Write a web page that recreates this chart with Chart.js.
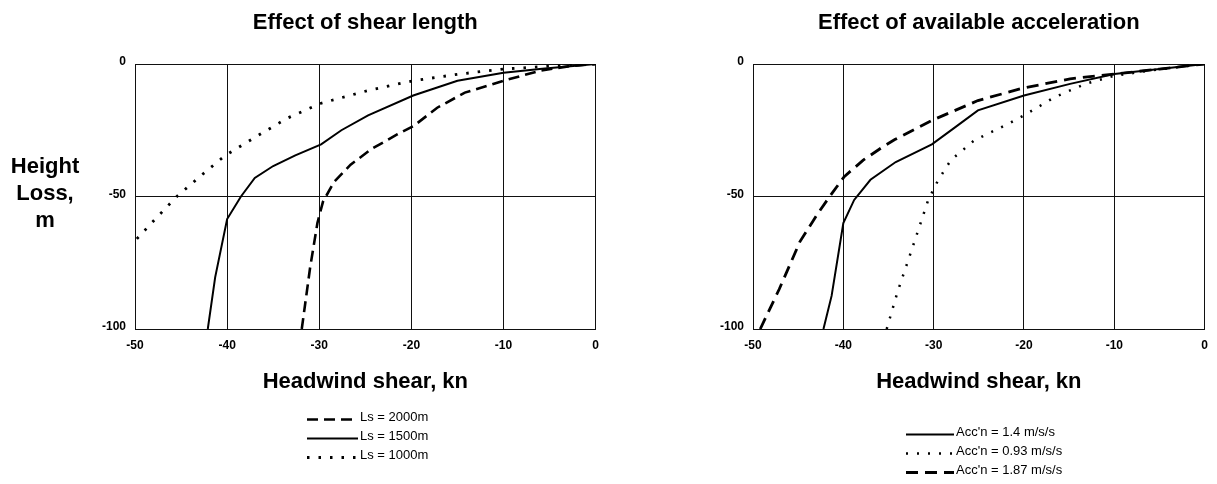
<!DOCTYPE html>
<html>
<head>
<meta charset="utf-8">
<title>Height loss vs headwind shear</title>
<script src="https://cdn.jsdelivr.net/npm/chart.js@4.4.1/dist/chart.umd.min.js"></script>
<style>
  html, body { margin: 0; padding: 0; background: #fff; }
  #wrap { position: relative; width: 1217px; height: 484px; overflow: hidden; }
  canvas { position: absolute; top: 0; }
  #shearChart { left: 0; }
  #accelChart { left: 608px; }
</style>
</head>
<body>
<div id="wrap">
  <canvas id="shearChart" width="608" height="484"></canvas>
  <canvas id="accelChart" width="609" height="484"></canvas>
</div>
<script>
// axis ticks: headwind shear (kn) and height loss (m)
const shearTicks = [-50, -40, -30, -20, -10, 0];
const lossTicks = [-100, -50, 0];

// effect of shear length
const ls2000Shear = [-31.9, -31.0, -30.2, -29.6, -28.4, -26.6, -24.3, -21.5, -19.8, -17.2, -14.2, -10.0, -6.0, -3.0, 0];
const ls2000Loss  = [-100, -77, -60, -52, -44.5, -38, -32, -26.5, -23.5, -16.5, -10.8, -6.3, -2.5, -0.9, 0];
const ls1500Shear = [-42.1, -41.3, -40.0, -38.5, -37.0, -35.0, -32.6, -29.8, -27.6, -24.7, -19.8, -15.0, -10.0, -5.8, 0];
const ls1500Loss  = [-100, -80.5, -58.5, -50, -43, -38.5, -34.5, -30.3, -25, -19.4, -11.9, -6.3, -3.3, -1.8, 0];
const ls1000Shear = [-49.8, -47.8, -45.4, -42.8, -40.2, -36.9, -33.5, -29.8, -24.7, -19.8, -14.8, -10.0, -5.0, 0];
const ls1000Loss  = [-66, -58.5, -49.8, -42, -34.5, -27.5, -20.5, -14.8, -10, -6.3, -3.8, -1.9, -0.8, 0];

// effect of available acceleration
const acc14Shear  = [-42.2, -41.3, -40.0, -38.8, -37.0, -34.2, -30.2, -27.6, -25.1, -20.0, -14.9, -10.0, -5.0, 0];
const acc14Loss   = [-100, -87.5, -60, -51.3, -43.7, -37, -30.3, -23.8, -17.5, -11.9, -7.5, -3.8, -1.9, 0];
const acc093Shear = [-35.2, -34.0, -32.3, -30.6, -29.5, -28.1, -25.5, -21.7, -20.0, -16.6, -13.2, -10.0, -5.0, 0];
const acc093Loss  = [-100, -86, -68.8, -51.3, -43.8, -36.3, -28.8, -22.5, -19.4, -12.5, -7.5, -4.4, -2.0, 0];
const acc187Shear = [-49.2, -47.1, -44.8, -42.8, -41.3, -39.9, -37.8, -35.6, -34.3, -30.2, -25.1, -20.0, -14.9, -10.0, -5.0, 0];
const acc187Loss  = [-100, -85, -67, -56.3, -49, -42.5, -36.3, -31.2, -28.5, -21.3, -13.8, -9, -5.6, -3.8, -1.9, 0];

const yTitleLines = ["Height", "Loss,", "m"];
const xTitle = "Headwind shear, kn";

const FONT = '"Liberation Sans", Arial, Helvetica, sans-serif';
const INK = "#111";

// titles, axis captions and the stacked legend under each plot
function annotations(cfg) {
    return {
        id: "annotations",
        afterDraw(chart) {
            const ctx = chart.ctx;
            const area = chart.chartArea;
            const mid = (area.left + area.right) / 2;
            ctx.save();
            ctx.fillStyle = "#000";
            ctx.strokeStyle = "#000";
            ctx.textAlign = "center";
            ctx.textBaseline = "alphabetic";
            ctx.font = "bold 22px " + FONT;
            ctx.fillText(cfg.title, mid, 28.5);
            ctx.fillText(xTitle, mid, 388);
            if (cfg.yTitle) {
                yTitleLines.forEach((line, i) => ctx.fillText(line, cfg.yTitleX, 173 + i * 27));
            }

            ctx.font = "13px " + FONT;
            ctx.textAlign = "left";
            ctx.textBaseline = "middle";
            chart.data.datasets.forEach((ds, i) => {
                const y = cfg.legendTop + i * 19;
                ctx.beginPath();
                ctx.setLineDash(ds.borderDash || []);
                ctx.lineWidth = ds.borderWidth;
                ctx.moveTo(cfg.legendX, y + 2.5);
                ctx.lineTo(cfg.legendX + cfg.sample, y + 2.5);
                ctx.stroke();
                ctx.setLineDash([]);
                ctx.fillText(ds.label, cfg.legendX + cfg.sample + 2, y);
            });
            ctx.restore();
        }
    };
}

function series(label, shear, loss, width, dash) {
    return {
        label: label,
        data: shear.map((x, i) => ({ x: x, y: loss[i] })),
        borderColor: "#000",
        borderWidth: width,
        borderDash: dash,
        borderCapStyle: "butt",
        pointRadius: 0,
        tension: 0,
        fill: false
    };
}

function buildChart(canvasId, datasets, yAxisWidth, rightPad, cfg) {
    const gridStyle = { color: INK, lineWidth: 1, drawTicks: false };
    const borderStyle = { display: true, color: INK, width: 1 };
    const tickFont = { family: FONT, size: 12, weight: "bold" };
    return new Chart(document.getElementById(canvasId), {
        type: "line",
        data: { datasets: datasets },
        options: {
            responsive: false,
            animation: false,
            events: [],
            layout: { padding: { top: 64, right: rightPad, bottom: 135, left: 0 } },
            plugins: {
                legend: { display: false },
                tooltip: { enabled: false },
                title: { display: false }
            },
            scales: {
                x: {
                    type: "linear",
                    min: -50,
                    max: 0,
                    afterBuildTicks: s => { s.ticks = shearTicks.map(v => ({ value: v })); },
                    afterFit: s => { s.height = 20; },
                    grid: gridStyle,
                    border: borderStyle,
                    ticks: { color: "#000", padding: 9, maxRotation: 0, font: tickFont }
                },
                y: {
                    type: "linear",
                    min: -100,
                    max: 0,
                    afterBuildTicks: s => { s.ticks = lossTicks.map(v => ({ value: v })); },
                    afterFit: s => { s.width = yAxisWidth; },
                    grid: gridStyle,
                    border: borderStyle,
                    ticks: { color: "#000", padding: 9, labelOffset: -2, font: tickFont }
                }
            }
        },
        plugins: [annotations(cfg)]
    });
}

buildChart("shearChart", [
    series("Ls = 2000m", ls2000Shear, ls2000Loss, 2.6, [11, 6]),
    series("Ls = 1500m", ls1500Shear, ls1500Loss, 2, []),
    series("Ls = 1000m", ls1000Shear, ls1000Loss, 2.8, [2.5, 9])
], 135, 8, {
    title: "Effect of shear length",
    yTitle: true,
    yTitleX: 45,
    legendX: 307,
    sample: 51,
    legendTop: 417
});

buildChart("accelChart", [
    series("Acc'n = 1.4 m/s/s", acc14Shear, acc14Loss, 2, []),
    series("Acc'n = 0.93 m/s/s", acc093Shear, acc093Loss, 2.5, [2, 9]),
    series("Acc'n = 1.87 m/s/s", acc187Shear, acc187Loss, 2.8, [12, 7])
], 145, 5, {
    title: "Effect of available acceleration",
    yTitle: false,
    legendX: 298,
    sample: 48,
    legendTop: 432
});
</script>
</body>
</html>
